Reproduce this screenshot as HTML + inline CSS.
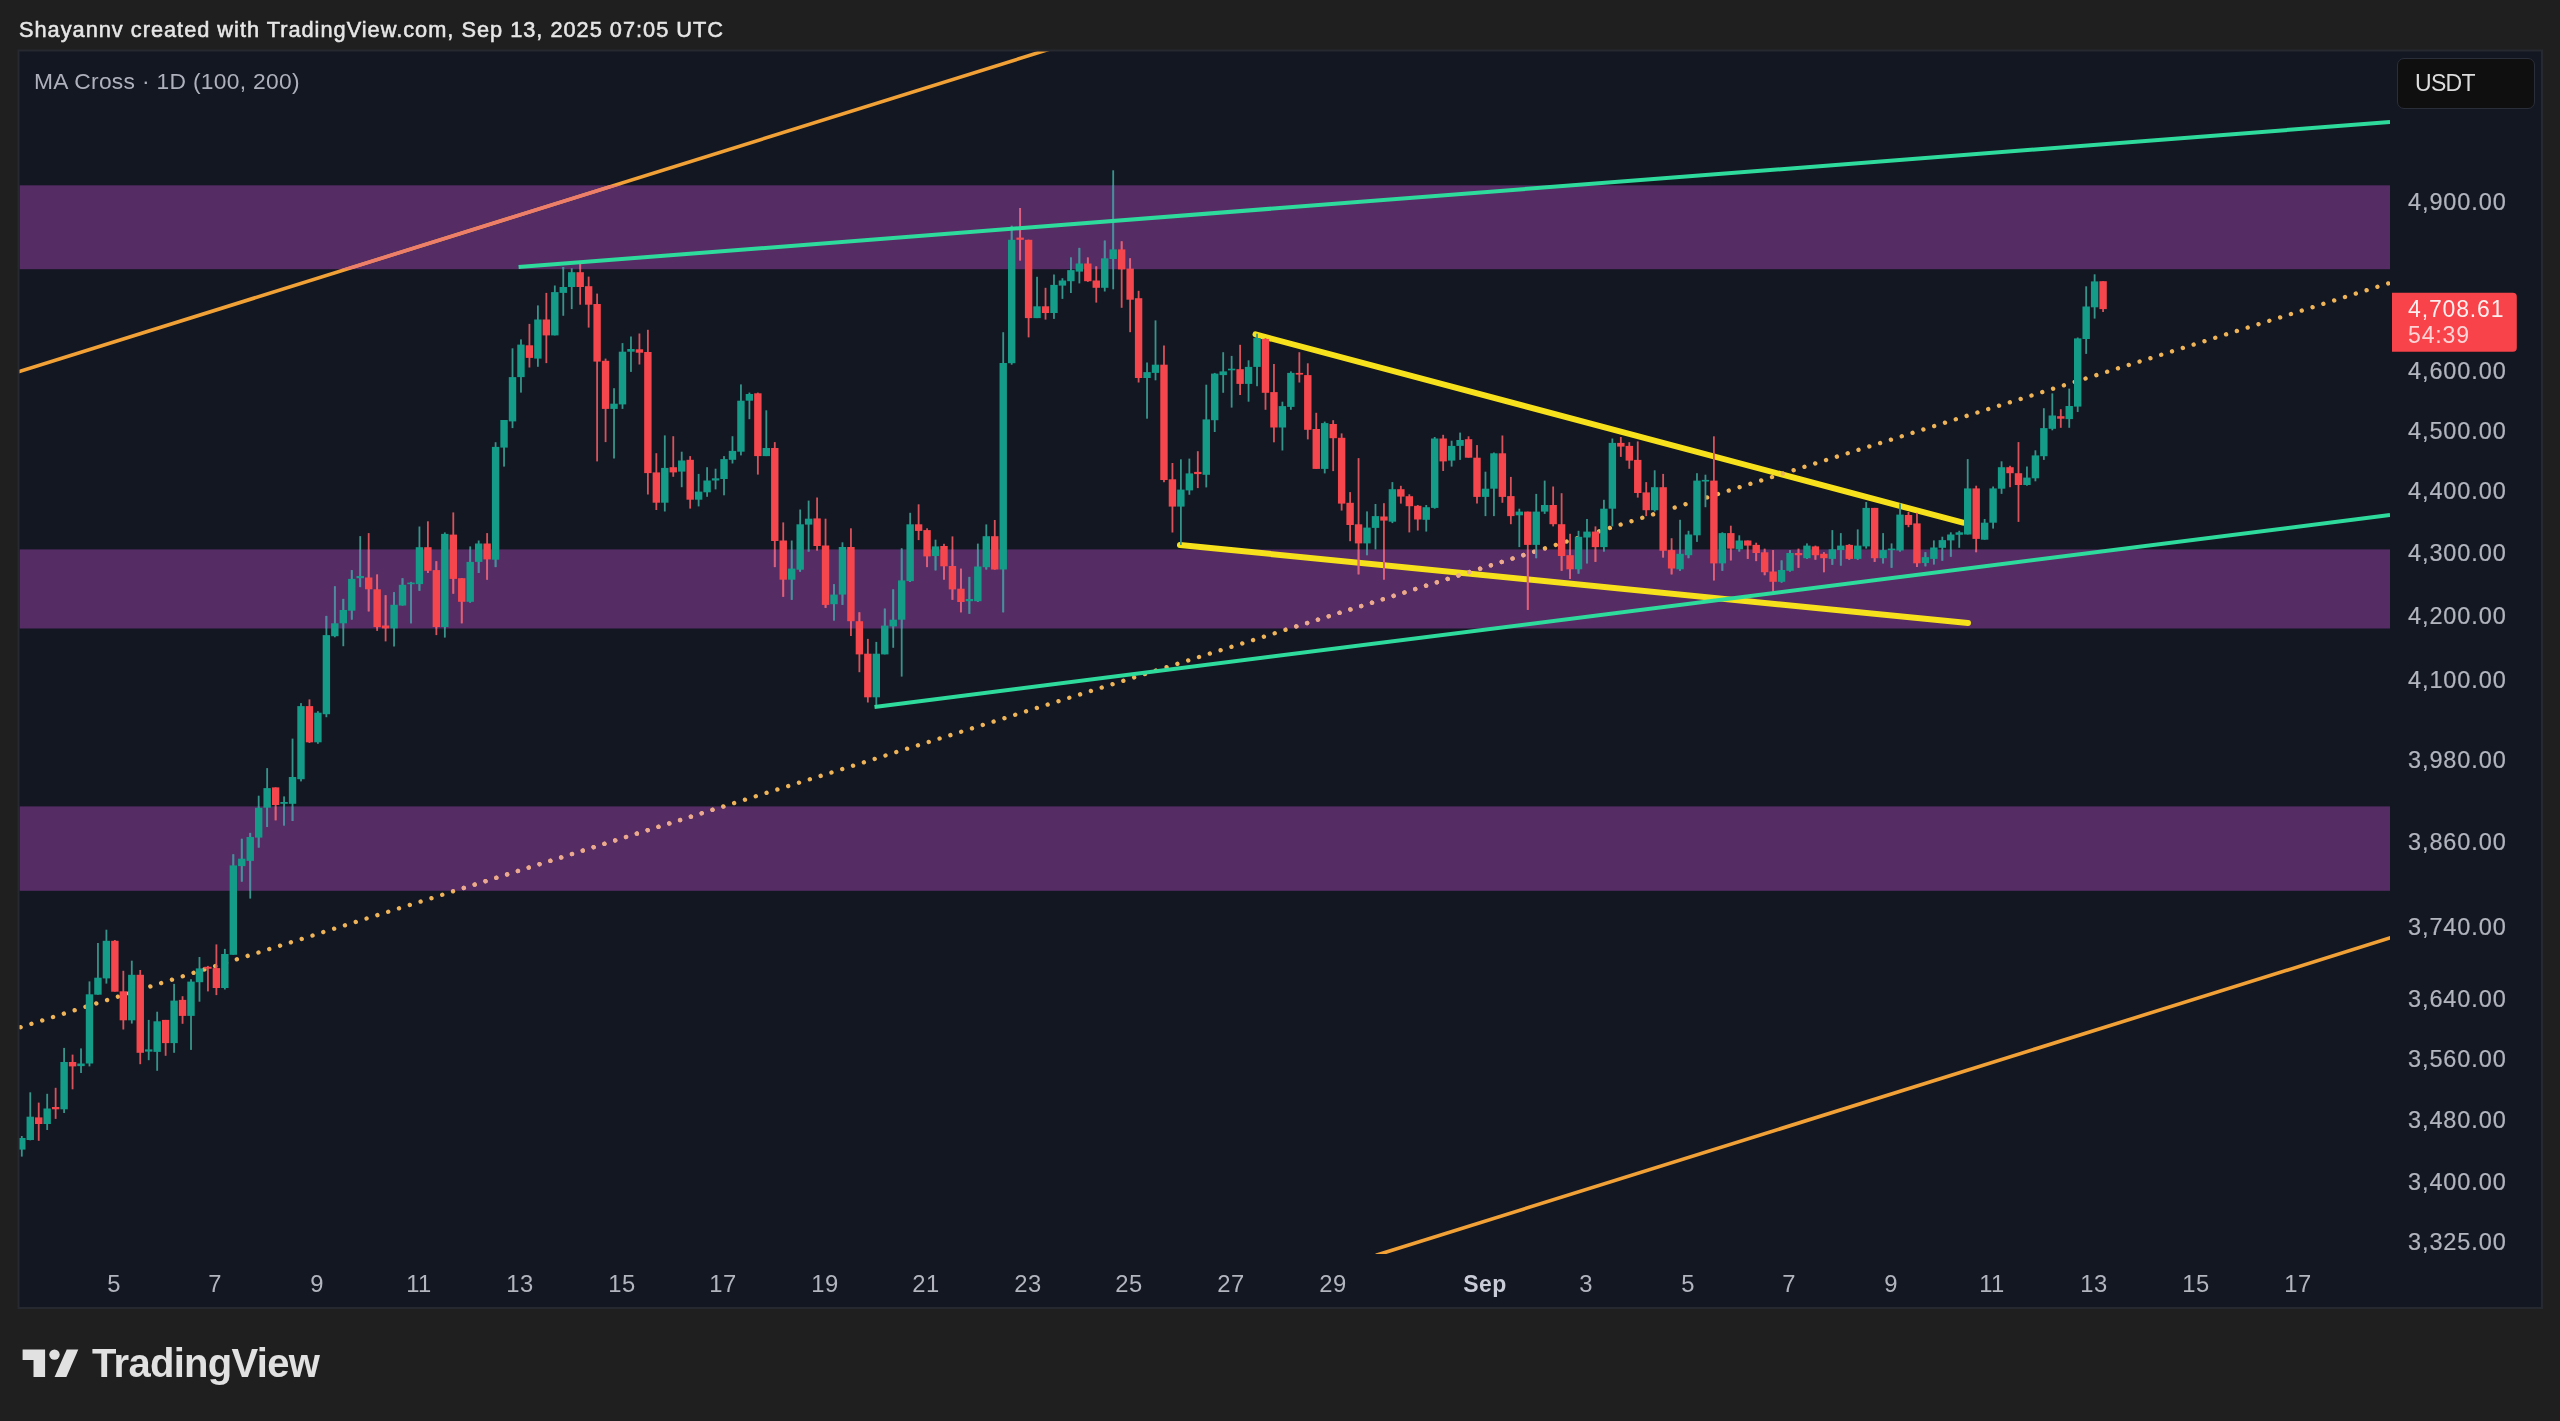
<!DOCTYPE html><html><head><meta charset="utf-8"><title>chart</title><style>
html,body{margin:0;padding:0;background:#1f1f1f;}
body{width:2560px;height:1421px;position:relative;overflow:hidden;font-family:"Liberation Sans",sans-serif;}
.t{position:absolute;white-space:nowrap;line-height:1;will-change:transform;}
.pl{position:absolute;left:2408px;font-size:23.5px;letter-spacing:0.89px;color:#b2b5be;-webkit-text-stroke:0.2px #b2b5be;white-space:nowrap;line-height:24px;height:24px;will-change:transform;}
.dl{position:absolute;font-size:23.8px;letter-spacing:0.5px;color:#b2b5be;white-space:nowrap;line-height:24px;height:24px;transform:translateX(-50%);top:1271.5px;will-change:transform;}
</style></head><body>
<svg width="2560" height="1421" viewBox="0 0 2560 1421" style="position:absolute;left:0;top:0">
<defs>
<clipPath id="plot"><rect x="19.5" y="51.5" width="2370.5" height="1202.5"/></clipPath>
<clipPath id="bands"><rect x="19.5" y="185.3" width="2370.5" height="83.9"/><rect x="19.5" y="549.4" width="2370.5" height="79.1"/><rect x="19.5" y="806.4" width="2370.5" height="84.4"/></clipPath>
</defs>
<rect x="18.5" y="50.5" width="2523.5" height="1257.5" fill="#131722" stroke="#26292f" stroke-width="2"/>
<g clip-path="url(#plot)"><g>
<rect x="19.5" y="185.3" width="2370.5" height="83.9" fill="#552c64"/>
<rect x="19.5" y="549.4" width="2370.5" height="79.1" fill="#552c64"/>
<rect x="19.5" y="806.4" width="2370.5" height="84.4" fill="#552c64"/>
<line x1="10.0" y1="374.5" x2="1050.0" y2="49.0" stroke="#f2a136" stroke-width="3.60" />
<g clip-path="url(#bands)">
<line x1="10.0" y1="374.5" x2="1050.0" y2="49.0" stroke="#ee7d6c" stroke-width="3.40" />
</g>
<line x1="1376.0" y1="1255.3" x2="2395.0" y2="936.4" stroke="#f2a136" stroke-width="3.60" />
<line x1="1255.5" y1="334.4" x2="1963.0" y2="522.7" stroke="#f7e11c" stroke-width="6.00" stroke-linecap="round"/>
<line x1="1180.0" y1="545.0" x2="1968.0" y2="623.0" stroke="#f7e11c" stroke-width="6.00" stroke-linecap="round"/>
<line x1="9.8" y1="1030.6" x2="2395.0" y2="281.3" stroke="#f0b458" stroke-width="4.4" stroke-linecap="round" stroke-dasharray="0.01 11.322"/>
<g clip-path="url(#bands)"><line x1="9.8" y1="1030.6" x2="2395.0" y2="281.3" stroke="#eba892" stroke-width="4.4" stroke-linecap="round" stroke-dasharray="0.01 11.322"/></g>
<rect x="20.90" y="1136.0" width="1.80" height="20.6" fill="#36948a"/>
<rect x="29.36" y="1092.3" width="1.80" height="48.0" fill="#36948a"/>
<rect x="37.82" y="1102.6" width="1.80" height="38.2" fill="#d8525b"/>
<rect x="46.28" y="1093.8" width="1.80" height="36.2" fill="#36948a"/>
<rect x="54.74" y="1087.8" width="1.80" height="31.1" fill="#d8525b"/>
<rect x="63.20" y="1047.9" width="1.80" height="65.1" fill="#36948a"/>
<rect x="71.66" y="1054.6" width="1.80" height="34.7" fill="#d8525b"/>
<rect x="80.12" y="1048.4" width="1.80" height="24.6" fill="#36948a"/>
<rect x="88.58" y="981.4" width="1.80" height="85.0" fill="#36948a"/>
<rect x="97.04" y="943.0" width="1.80" height="51.7" fill="#36948a"/>
<rect x="105.50" y="929.7" width="1.80" height="53.9" fill="#36948a"/>
<rect x="113.97" y="940.0" width="1.80" height="51.7" fill="#d8525b"/>
<rect x="122.43" y="970.8" width="1.80" height="58.7" fill="#d8525b"/>
<rect x="130.89" y="960.7" width="1.80" height="62.9" fill="#36948a"/>
<rect x="139.35" y="970.0" width="1.80" height="94.2" fill="#d8525b"/>
<rect x="147.81" y="1019.9" width="1.80" height="40.3" fill="#36948a"/>
<rect x="156.27" y="1011.7" width="1.80" height="59.1" fill="#36948a"/>
<rect x="164.73" y="1019.9" width="1.80" height="35.9" fill="#d8525b"/>
<rect x="173.19" y="983.9" width="1.80" height="68.9" fill="#36948a"/>
<rect x="181.65" y="996.2" width="1.80" height="27.6" fill="#d8525b"/>
<rect x="190.11" y="979.2" width="1.80" height="70.7" fill="#36948a"/>
<rect x="198.57" y="957.0" width="1.80" height="44.7" fill="#36948a"/>
<rect x="207.03" y="965.9" width="1.80" height="25.5" fill="#d8525b"/>
<rect x="215.49" y="944.4" width="1.80" height="50.7" fill="#d8525b"/>
<rect x="223.95" y="948.9" width="1.80" height="40.6" fill="#36948a"/>
<rect x="232.41" y="854.3" width="1.80" height="100.5" fill="#36948a"/>
<rect x="240.87" y="838.8" width="1.80" height="42.8" fill="#36948a"/>
<rect x="249.33" y="832.9" width="1.80" height="65.7" fill="#36948a"/>
<rect x="257.79" y="795.7" width="1.80" height="51.9" fill="#36948a"/>
<rect x="266.25" y="768.1" width="1.80" height="58.9" fill="#36948a"/>
<rect x="274.72" y="787.4" width="1.80" height="32.9" fill="#d8525b"/>
<rect x="283.18" y="796.4" width="1.80" height="29.1" fill="#36948a"/>
<rect x="291.64" y="738.6" width="1.80" height="82.4" fill="#36948a"/>
<rect x="300.10" y="703.1" width="1.80" height="78.3" fill="#36948a"/>
<rect x="308.56" y="699.4" width="1.80" height="43.6" fill="#d8525b"/>
<rect x="317.02" y="711.2" width="1.80" height="32.6" fill="#36948a"/>
<rect x="325.48" y="615.9" width="1.80" height="101.3" fill="#36948a"/>
<rect x="333.94" y="586.3" width="1.80" height="51.0" fill="#36948a"/>
<rect x="342.40" y="598.9" width="1.80" height="47.3" fill="#36948a"/>
<rect x="350.86" y="570.1" width="1.80" height="49.5" fill="#36948a"/>
<rect x="359.32" y="536.1" width="1.80" height="51.0" fill="#36948a"/>
<rect x="367.78" y="533.1" width="1.80" height="78.3" fill="#d8525b"/>
<rect x="376.24" y="574.5" width="1.80" height="56.4" fill="#d8525b"/>
<rect x="384.70" y="595.2" width="1.80" height="46.2" fill="#d8525b"/>
<rect x="393.16" y="592.2" width="1.80" height="54.3" fill="#36948a"/>
<rect x="401.62" y="578.2" width="1.80" height="27.3" fill="#36948a"/>
<rect x="410.08" y="581.9" width="1.80" height="41.4" fill="#36948a"/>
<rect x="418.54" y="526.5" width="1.80" height="64.3" fill="#36948a"/>
<rect x="427.00" y="521.3" width="1.80" height="51.7" fill="#d8525b"/>
<rect x="435.46" y="561.2" width="1.80" height="73.9" fill="#d8525b"/>
<rect x="443.93" y="532.4" width="1.80" height="105.2" fill="#36948a"/>
<rect x="452.39" y="512.4" width="1.80" height="81.3" fill="#d8525b"/>
<rect x="460.85" y="578.2" width="1.80" height="45.1" fill="#d8525b"/>
<rect x="469.31" y="546.4" width="1.80" height="56.2" fill="#36948a"/>
<rect x="477.77" y="540.5" width="1.80" height="32.5" fill="#36948a"/>
<rect x="486.23" y="533.1" width="1.80" height="46.6" fill="#d8525b"/>
<rect x="494.69" y="442.2" width="1.80" height="124.9" fill="#36948a"/>
<rect x="503.15" y="420.0" width="1.80" height="46.6" fill="#36948a"/>
<rect x="511.61" y="348.3" width="1.80" height="79.8" fill="#36948a"/>
<rect x="520.07" y="339.4" width="1.80" height="53.2" fill="#36948a"/>
<rect x="528.53" y="323.9" width="1.80" height="43.6" fill="#d8525b"/>
<rect x="536.99" y="305.4" width="1.80" height="61.4" fill="#36948a"/>
<rect x="545.45" y="292.9" width="1.80" height="70.2" fill="#d8525b"/>
<rect x="553.91" y="285.5" width="1.80" height="49.9" fill="#36948a"/>
<rect x="562.37" y="267.0" width="1.80" height="48.8" fill="#36948a"/>
<rect x="570.83" y="268.5" width="1.80" height="40.6" fill="#36948a"/>
<rect x="579.29" y="264.0" width="1.80" height="40.7" fill="#d8525b"/>
<rect x="587.75" y="276.6" width="1.80" height="51.0" fill="#d8525b"/>
<rect x="596.21" y="293.6" width="1.80" height="167.8" fill="#d8525b"/>
<rect x="604.67" y="358.6" width="1.80" height="83.5" fill="#d8525b"/>
<rect x="613.13" y="388.2" width="1.80" height="70.3" fill="#36948a"/>
<rect x="621.60" y="343.1" width="1.80" height="65.8" fill="#36948a"/>
<rect x="630.06" y="336.5" width="1.80" height="35.4" fill="#36948a"/>
<rect x="638.52" y="333.5" width="1.80" height="31.0" fill="#d8525b"/>
<rect x="646.98" y="329.8" width="1.80" height="164.7" fill="#d8525b"/>
<rect x="655.44" y="453.2" width="1.80" height="56.8" fill="#d8525b"/>
<rect x="663.90" y="435.4" width="1.80" height="76.1" fill="#36948a"/>
<rect x="672.36" y="436.2" width="1.80" height="40.6" fill="#d8525b"/>
<rect x="680.82" y="451.7" width="1.80" height="35.5" fill="#36948a"/>
<rect x="689.28" y="456.1" width="1.80" height="52.5" fill="#d8525b"/>
<rect x="697.74" y="473.9" width="1.80" height="32.5" fill="#36948a"/>
<rect x="706.20" y="467.2" width="1.80" height="29.6" fill="#36948a"/>
<rect x="714.66" y="468.7" width="1.80" height="20.7" fill="#36948a"/>
<rect x="723.12" y="456.1" width="1.80" height="39.2" fill="#36948a"/>
<rect x="731.58" y="436.2" width="1.80" height="27.3" fill="#36948a"/>
<rect x="740.04" y="384.4" width="1.80" height="71.0" fill="#36948a"/>
<rect x="748.50" y="392.6" width="1.80" height="26.6" fill="#36948a"/>
<rect x="756.96" y="392.6" width="1.80" height="82.0" fill="#d8525b"/>
<rect x="765.42" y="410.3" width="1.80" height="45.8" fill="#36948a"/>
<rect x="773.88" y="442.1" width="1.80" height="125.0" fill="#d8525b"/>
<rect x="782.34" y="522.4" width="1.80" height="74.4" fill="#d8525b"/>
<rect x="790.81" y="540.5" width="1.80" height="59.3" fill="#36948a"/>
<rect x="799.27" y="509.5" width="1.80" height="62.2" fill="#36948a"/>
<rect x="807.73" y="500.6" width="1.80" height="51.0" fill="#36948a"/>
<rect x="816.19" y="497.5" width="1.80" height="53.0" fill="#d8525b"/>
<rect x="824.65" y="518.7" width="1.80" height="89.2" fill="#d8525b"/>
<rect x="833.11" y="584.2" width="1.80" height="36.3" fill="#36948a"/>
<rect x="841.57" y="542.3" width="1.80" height="62.6" fill="#36948a"/>
<rect x="850.03" y="528.3" width="1.80" height="107.7" fill="#d8525b"/>
<rect x="858.49" y="612.3" width="1.80" height="59.9" fill="#d8525b"/>
<rect x="866.95" y="638.9" width="1.80" height="63.6" fill="#d8525b"/>
<rect x="875.41" y="641.9" width="1.80" height="65.0" fill="#36948a"/>
<rect x="883.87" y="608.6" width="1.80" height="45.8" fill="#36948a"/>
<rect x="892.33" y="589.4" width="1.80" height="58.4" fill="#36948a"/>
<rect x="900.79" y="548.2" width="1.80" height="128.4" fill="#36948a"/>
<rect x="909.25" y="512.8" width="1.80" height="69.2" fill="#36948a"/>
<rect x="917.71" y="504.3" width="1.80" height="35.8" fill="#d8525b"/>
<rect x="926.17" y="528.3" width="1.80" height="38.8" fill="#d8525b"/>
<rect x="934.63" y="539.7" width="1.80" height="30.7" fill="#36948a"/>
<rect x="943.09" y="543.8" width="1.80" height="35.8" fill="#d8525b"/>
<rect x="951.55" y="536.4" width="1.80" height="63.4" fill="#d8525b"/>
<rect x="960.02" y="568.7" width="1.80" height="43.6" fill="#d8525b"/>
<rect x="968.48" y="576.9" width="1.80" height="36.9" fill="#36948a"/>
<rect x="976.94" y="543.6" width="1.80" height="58.4" fill="#36948a"/>
<rect x="985.40" y="524.4" width="1.80" height="45.1" fill="#36948a"/>
<rect x="993.86" y="520.0" width="1.80" height="49.5" fill="#d8525b"/>
<rect x="1002.32" y="332.2" width="1.80" height="280.1" fill="#36948a"/>
<rect x="1010.78" y="225.8" width="1.80" height="138.9" fill="#36948a"/>
<rect x="1019.24" y="208.0" width="1.80" height="52.5" fill="#d8525b"/>
<rect x="1027.70" y="239.8" width="1.80" height="97.6" fill="#d8525b"/>
<rect x="1036.16" y="276.8" width="1.80" height="41.3" fill="#36948a"/>
<rect x="1044.62" y="287.8" width="1.80" height="31.8" fill="#d8525b"/>
<rect x="1053.08" y="274.5" width="1.80" height="44.4" fill="#36948a"/>
<rect x="1061.54" y="278.2" width="1.80" height="20.7" fill="#36948a"/>
<rect x="1070.00" y="257.5" width="1.80" height="35.5" fill="#36948a"/>
<rect x="1078.46" y="247.9" width="1.80" height="35.5" fill="#36948a"/>
<rect x="1086.92" y="257.5" width="1.80" height="24.4" fill="#d8525b"/>
<rect x="1095.38" y="266.4" width="1.80" height="36.2" fill="#d8525b"/>
<rect x="1103.84" y="240.6" width="1.80" height="50.9" fill="#36948a"/>
<rect x="1112.30" y="170.3" width="1.80" height="119.0" fill="#36948a"/>
<rect x="1120.76" y="241.3" width="1.80" height="66.5" fill="#d8525b"/>
<rect x="1129.23" y="258.3" width="1.80" height="73.9" fill="#d8525b"/>
<rect x="1137.69" y="290.8" width="1.80" height="91.7" fill="#d8525b"/>
<rect x="1146.15" y="362.5" width="1.80" height="56.2" fill="#36948a"/>
<rect x="1154.61" y="320.4" width="1.80" height="59.9" fill="#36948a"/>
<rect x="1163.07" y="345.5" width="1.80" height="136.7" fill="#d8525b"/>
<rect x="1171.53" y="463.0" width="1.80" height="69.5" fill="#d8525b"/>
<rect x="1179.99" y="459.3" width="1.80" height="85.7" fill="#36948a"/>
<rect x="1188.45" y="458.6" width="1.80" height="36.2" fill="#36948a"/>
<rect x="1196.91" y="451.2" width="1.80" height="36.9" fill="#d8525b"/>
<rect x="1205.37" y="384.7" width="1.80" height="102.7" fill="#36948a"/>
<rect x="1213.83" y="372.9" width="1.80" height="59.1" fill="#36948a"/>
<rect x="1222.29" y="352.2" width="1.80" height="40.6" fill="#36948a"/>
<rect x="1230.75" y="355.9" width="1.80" height="51.7" fill="#36948a"/>
<rect x="1239.21" y="344.8" width="1.80" height="50.2" fill="#d8525b"/>
<rect x="1247.67" y="360.3" width="1.80" height="41.4" fill="#36948a"/>
<rect x="1256.13" y="333.7" width="1.80" height="52.5" fill="#36948a"/>
<rect x="1264.59" y="338.1" width="1.80" height="71.7" fill="#d8525b"/>
<rect x="1273.05" y="364.0" width="1.80" height="78.3" fill="#d8525b"/>
<rect x="1281.51" y="401.7" width="1.80" height="48.8" fill="#36948a"/>
<rect x="1289.97" y="371.4" width="1.80" height="38.4" fill="#36948a"/>
<rect x="1298.44" y="352.2" width="1.80" height="30.3" fill="#d8525b"/>
<rect x="1306.90" y="363.3" width="1.80" height="76.1" fill="#d8525b"/>
<rect x="1315.36" y="412.8" width="1.80" height="56.1" fill="#d8525b"/>
<rect x="1323.82" y="421.6" width="1.80" height="51.8" fill="#36948a"/>
<rect x="1332.28" y="420.2" width="1.80" height="50.9" fill="#d8525b"/>
<rect x="1340.74" y="433.4" width="1.80" height="77.2" fill="#d8525b"/>
<rect x="1349.20" y="492.1" width="1.80" height="49.1" fill="#d8525b"/>
<rect x="1357.66" y="458.1" width="1.80" height="116.3" fill="#d8525b"/>
<rect x="1366.12" y="511.4" width="1.80" height="43.8" fill="#36948a"/>
<rect x="1374.58" y="504.0" width="1.80" height="45.3" fill="#36948a"/>
<rect x="1383.04" y="503.2" width="1.80" height="76.4" fill="#d8525b"/>
<rect x="1391.50" y="482.1" width="1.80" height="41.0" fill="#36948a"/>
<rect x="1399.96" y="485.8" width="1.80" height="17.8" fill="#d8525b"/>
<rect x="1408.42" y="494.3" width="1.80" height="38.1" fill="#d8525b"/>
<rect x="1416.88" y="505.0" width="1.80" height="25.5" fill="#d8525b"/>
<rect x="1425.34" y="505.0" width="1.80" height="26.6" fill="#36948a"/>
<rect x="1433.80" y="437.0" width="1.80" height="71.7" fill="#36948a"/>
<rect x="1442.26" y="434.8" width="1.80" height="36.2" fill="#d8525b"/>
<rect x="1450.72" y="440.7" width="1.80" height="25.9" fill="#36948a"/>
<rect x="1459.18" y="432.6" width="1.80" height="27.3" fill="#36948a"/>
<rect x="1467.65" y="436.3" width="1.80" height="21.4" fill="#d8525b"/>
<rect x="1476.11" y="445.1" width="1.80" height="58.4" fill="#d8525b"/>
<rect x="1484.57" y="471.7" width="1.80" height="44.4" fill="#36948a"/>
<rect x="1493.03" y="452.5" width="1.80" height="63.6" fill="#36948a"/>
<rect x="1501.49" y="435.5" width="1.80" height="67.3" fill="#d8525b"/>
<rect x="1509.95" y="476.9" width="1.80" height="47.3" fill="#d8525b"/>
<rect x="1518.41" y="508.7" width="1.80" height="38.4" fill="#36948a"/>
<rect x="1526.87" y="511.6" width="1.80" height="98.3" fill="#d8525b"/>
<rect x="1535.33" y="493.9" width="1.80" height="64.3" fill="#36948a"/>
<rect x="1543.79" y="480.6" width="1.80" height="33.3" fill="#36948a"/>
<rect x="1552.25" y="486.5" width="1.80" height="39.9" fill="#d8525b"/>
<rect x="1560.71" y="493.2" width="1.80" height="77.6" fill="#d8525b"/>
<rect x="1569.17" y="533.8" width="1.80" height="45.1" fill="#d8525b"/>
<rect x="1577.63" y="530.8" width="1.80" height="42.9" fill="#36948a"/>
<rect x="1586.09" y="519.0" width="1.80" height="44.4" fill="#36948a"/>
<rect x="1594.55" y="526.4" width="1.80" height="35.5" fill="#d8525b"/>
<rect x="1603.01" y="499.8" width="1.80" height="51.7" fill="#36948a"/>
<rect x="1611.47" y="438.5" width="1.80" height="87.9" fill="#36948a"/>
<rect x="1619.93" y="437.0" width="1.80" height="19.9" fill="#d8525b"/>
<rect x="1628.39" y="442.2" width="1.80" height="26.6" fill="#d8525b"/>
<rect x="1636.86" y="441.4" width="1.80" height="56.2" fill="#d8525b"/>
<rect x="1645.32" y="482.1" width="1.80" height="34.0" fill="#d8525b"/>
<rect x="1653.78" y="470.3" width="1.80" height="41.3" fill="#36948a"/>
<rect x="1662.24" y="473.9" width="1.80" height="83.6" fill="#d8525b"/>
<rect x="1670.70" y="538.2" width="1.80" height="36.2" fill="#d8525b"/>
<rect x="1679.16" y="519.8" width="1.80" height="51.0" fill="#36948a"/>
<rect x="1687.62" y="530.8" width="1.80" height="27.4" fill="#36948a"/>
<rect x="1696.08" y="473.2" width="1.80" height="68.7" fill="#36948a"/>
<rect x="1704.54" y="474.7" width="1.80" height="32.5" fill="#36948a"/>
<rect x="1713.00" y="436.3" width="1.80" height="144.1" fill="#d8525b"/>
<rect x="1721.46" y="532.3" width="1.80" height="38.5" fill="#36948a"/>
<rect x="1729.92" y="525.7" width="1.80" height="34.7" fill="#d8525b"/>
<rect x="1738.38" y="535.3" width="1.80" height="16.2" fill="#36948a"/>
<rect x="1746.84" y="540.5" width="1.80" height="18.4" fill="#d8525b"/>
<rect x="1755.30" y="542.7" width="1.80" height="18.4" fill="#d8525b"/>
<rect x="1763.76" y="548.6" width="1.80" height="26.6" fill="#d8525b"/>
<rect x="1772.22" y="550.1" width="1.80" height="41.3" fill="#d8525b"/>
<rect x="1780.68" y="560.4" width="1.80" height="22.2" fill="#36948a"/>
<rect x="1789.14" y="550.1" width="1.80" height="21.4" fill="#36948a"/>
<rect x="1797.60" y="548.6" width="1.80" height="19.2" fill="#d8525b"/>
<rect x="1806.07" y="543.4" width="1.80" height="15.5" fill="#36948a"/>
<rect x="1814.53" y="545.6" width="1.80" height="14.1" fill="#d8525b"/>
<rect x="1822.99" y="552.3" width="1.80" height="19.9" fill="#d8525b"/>
<rect x="1831.45" y="530.1" width="1.80" height="34.7" fill="#36948a"/>
<rect x="1839.91" y="533.1" width="1.80" height="32.5" fill="#36948a"/>
<rect x="1848.37" y="544.1" width="1.80" height="15.6" fill="#d8525b"/>
<rect x="1856.83" y="529.4" width="1.80" height="30.3" fill="#36948a"/>
<rect x="1865.29" y="502.0" width="1.80" height="46.6" fill="#36948a"/>
<rect x="1873.75" y="507.9" width="1.80" height="54.0" fill="#d8525b"/>
<rect x="1882.21" y="533.1" width="1.80" height="30.3" fill="#36948a"/>
<rect x="1890.67" y="543.4" width="1.80" height="24.4" fill="#36948a"/>
<rect x="1899.13" y="503.5" width="1.80" height="48.0" fill="#36948a"/>
<rect x="1907.59" y="512.0" width="1.80" height="15.2" fill="#d8525b"/>
<rect x="1916.05" y="512.8" width="1.80" height="54.2" fill="#d8525b"/>
<rect x="1924.51" y="552.2" width="1.80" height="14.1" fill="#36948a"/>
<rect x="1932.97" y="540.4" width="1.80" height="24.0" fill="#36948a"/>
<rect x="1941.43" y="536.7" width="1.80" height="24.0" fill="#36948a"/>
<rect x="1949.89" y="532.3" width="1.80" height="24.4" fill="#36948a"/>
<rect x="1958.35" y="530.8" width="1.80" height="17.0" fill="#36948a"/>
<rect x="1966.81" y="459.1" width="1.80" height="75.4" fill="#36948a"/>
<rect x="1975.28" y="485.7" width="1.80" height="66.5" fill="#d8525b"/>
<rect x="1983.74" y="519.0" width="1.80" height="20.7" fill="#36948a"/>
<rect x="1992.20" y="486.5" width="1.80" height="42.1" fill="#36948a"/>
<rect x="2000.66" y="461.3" width="1.80" height="32.6" fill="#36948a"/>
<rect x="2009.12" y="465.8" width="1.80" height="21.4" fill="#d8525b"/>
<rect x="2017.58" y="442.1" width="1.80" height="79.8" fill="#d8525b"/>
<rect x="2026.04" y="466.5" width="1.80" height="19.2" fill="#36948a"/>
<rect x="2034.50" y="450.3" width="1.80" height="31.0" fill="#36948a"/>
<rect x="2042.96" y="408.2" width="1.80" height="51.7" fill="#36948a"/>
<rect x="2051.42" y="393.4" width="1.80" height="36.9" fill="#36948a"/>
<rect x="2059.88" y="409.2" width="1.80" height="18.6" fill="#d8525b"/>
<rect x="2068.34" y="388.6" width="1.80" height="39.2" fill="#36948a"/>
<rect x="2076.80" y="337.5" width="1.80" height="74.5" fill="#36948a"/>
<rect x="2085.26" y="286.3" width="1.80" height="67.6" fill="#36948a"/>
<rect x="2093.72" y="274.3" width="1.80" height="44.3" fill="#36948a"/>
<rect x="2102.18" y="281.2" width="1.80" height="30.8" fill="#d8525b"/>
<g clip-path="url(#bands)">
<rect x="20.90" y="1136.0" width="1.80" height="20.6" fill="#4f8aa0"/>
<rect x="29.36" y="1092.3" width="1.80" height="48.0" fill="#4f8aa0"/>
<rect x="37.82" y="1102.6" width="1.80" height="38.2" fill="#d9607f"/>
<rect x="46.28" y="1093.8" width="1.80" height="36.2" fill="#4f8aa0"/>
<rect x="54.74" y="1087.8" width="1.80" height="31.1" fill="#d9607f"/>
<rect x="63.20" y="1047.9" width="1.80" height="65.1" fill="#4f8aa0"/>
<rect x="71.66" y="1054.6" width="1.80" height="34.7" fill="#d9607f"/>
<rect x="80.12" y="1048.4" width="1.80" height="24.6" fill="#4f8aa0"/>
<rect x="88.58" y="981.4" width="1.80" height="85.0" fill="#4f8aa0"/>
<rect x="97.04" y="943.0" width="1.80" height="51.7" fill="#4f8aa0"/>
<rect x="105.50" y="929.7" width="1.80" height="53.9" fill="#4f8aa0"/>
<rect x="113.97" y="940.0" width="1.80" height="51.7" fill="#d9607f"/>
<rect x="122.43" y="970.8" width="1.80" height="58.7" fill="#d9607f"/>
<rect x="130.89" y="960.7" width="1.80" height="62.9" fill="#4f8aa0"/>
<rect x="139.35" y="970.0" width="1.80" height="94.2" fill="#d9607f"/>
<rect x="147.81" y="1019.9" width="1.80" height="40.3" fill="#4f8aa0"/>
<rect x="156.27" y="1011.7" width="1.80" height="59.1" fill="#4f8aa0"/>
<rect x="164.73" y="1019.9" width="1.80" height="35.9" fill="#d9607f"/>
<rect x="173.19" y="983.9" width="1.80" height="68.9" fill="#4f8aa0"/>
<rect x="181.65" y="996.2" width="1.80" height="27.6" fill="#d9607f"/>
<rect x="190.11" y="979.2" width="1.80" height="70.7" fill="#4f8aa0"/>
<rect x="198.57" y="957.0" width="1.80" height="44.7" fill="#4f8aa0"/>
<rect x="207.03" y="965.9" width="1.80" height="25.5" fill="#d9607f"/>
<rect x="215.49" y="944.4" width="1.80" height="50.7" fill="#d9607f"/>
<rect x="223.95" y="948.9" width="1.80" height="40.6" fill="#4f8aa0"/>
<rect x="232.41" y="854.3" width="1.80" height="100.5" fill="#4f8aa0"/>
<rect x="240.87" y="838.8" width="1.80" height="42.8" fill="#4f8aa0"/>
<rect x="249.33" y="832.9" width="1.80" height="65.7" fill="#4f8aa0"/>
<rect x="257.79" y="795.7" width="1.80" height="51.9" fill="#4f8aa0"/>
<rect x="266.25" y="768.1" width="1.80" height="58.9" fill="#4f8aa0"/>
<rect x="274.72" y="787.4" width="1.80" height="32.9" fill="#d9607f"/>
<rect x="283.18" y="796.4" width="1.80" height="29.1" fill="#4f8aa0"/>
<rect x="291.64" y="738.6" width="1.80" height="82.4" fill="#4f8aa0"/>
<rect x="300.10" y="703.1" width="1.80" height="78.3" fill="#4f8aa0"/>
<rect x="308.56" y="699.4" width="1.80" height="43.6" fill="#d9607f"/>
<rect x="317.02" y="711.2" width="1.80" height="32.6" fill="#4f8aa0"/>
<rect x="325.48" y="615.9" width="1.80" height="101.3" fill="#4f8aa0"/>
<rect x="333.94" y="586.3" width="1.80" height="51.0" fill="#4f8aa0"/>
<rect x="342.40" y="598.9" width="1.80" height="47.3" fill="#4f8aa0"/>
<rect x="350.86" y="570.1" width="1.80" height="49.5" fill="#4f8aa0"/>
<rect x="359.32" y="536.1" width="1.80" height="51.0" fill="#4f8aa0"/>
<rect x="367.78" y="533.1" width="1.80" height="78.3" fill="#d9607f"/>
<rect x="376.24" y="574.5" width="1.80" height="56.4" fill="#d9607f"/>
<rect x="384.70" y="595.2" width="1.80" height="46.2" fill="#d9607f"/>
<rect x="393.16" y="592.2" width="1.80" height="54.3" fill="#4f8aa0"/>
<rect x="401.62" y="578.2" width="1.80" height="27.3" fill="#4f8aa0"/>
<rect x="410.08" y="581.9" width="1.80" height="41.4" fill="#4f8aa0"/>
<rect x="418.54" y="526.5" width="1.80" height="64.3" fill="#4f8aa0"/>
<rect x="427.00" y="521.3" width="1.80" height="51.7" fill="#d9607f"/>
<rect x="435.46" y="561.2" width="1.80" height="73.9" fill="#d9607f"/>
<rect x="443.93" y="532.4" width="1.80" height="105.2" fill="#4f8aa0"/>
<rect x="452.39" y="512.4" width="1.80" height="81.3" fill="#d9607f"/>
<rect x="460.85" y="578.2" width="1.80" height="45.1" fill="#d9607f"/>
<rect x="469.31" y="546.4" width="1.80" height="56.2" fill="#4f8aa0"/>
<rect x="477.77" y="540.5" width="1.80" height="32.5" fill="#4f8aa0"/>
<rect x="486.23" y="533.1" width="1.80" height="46.6" fill="#d9607f"/>
<rect x="494.69" y="442.2" width="1.80" height="124.9" fill="#4f8aa0"/>
<rect x="503.15" y="420.0" width="1.80" height="46.6" fill="#4f8aa0"/>
<rect x="511.61" y="348.3" width="1.80" height="79.8" fill="#4f8aa0"/>
<rect x="520.07" y="339.4" width="1.80" height="53.2" fill="#4f8aa0"/>
<rect x="528.53" y="323.9" width="1.80" height="43.6" fill="#d9607f"/>
<rect x="536.99" y="305.4" width="1.80" height="61.4" fill="#4f8aa0"/>
<rect x="545.45" y="292.9" width="1.80" height="70.2" fill="#d9607f"/>
<rect x="553.91" y="285.5" width="1.80" height="49.9" fill="#4f8aa0"/>
<rect x="562.37" y="267.0" width="1.80" height="48.8" fill="#4f8aa0"/>
<rect x="570.83" y="268.5" width="1.80" height="40.6" fill="#4f8aa0"/>
<rect x="579.29" y="264.0" width="1.80" height="40.7" fill="#d9607f"/>
<rect x="587.75" y="276.6" width="1.80" height="51.0" fill="#d9607f"/>
<rect x="596.21" y="293.6" width="1.80" height="167.8" fill="#d9607f"/>
<rect x="604.67" y="358.6" width="1.80" height="83.5" fill="#d9607f"/>
<rect x="613.13" y="388.2" width="1.80" height="70.3" fill="#4f8aa0"/>
<rect x="621.60" y="343.1" width="1.80" height="65.8" fill="#4f8aa0"/>
<rect x="630.06" y="336.5" width="1.80" height="35.4" fill="#4f8aa0"/>
<rect x="638.52" y="333.5" width="1.80" height="31.0" fill="#d9607f"/>
<rect x="646.98" y="329.8" width="1.80" height="164.7" fill="#d9607f"/>
<rect x="655.44" y="453.2" width="1.80" height="56.8" fill="#d9607f"/>
<rect x="663.90" y="435.4" width="1.80" height="76.1" fill="#4f8aa0"/>
<rect x="672.36" y="436.2" width="1.80" height="40.6" fill="#d9607f"/>
<rect x="680.82" y="451.7" width="1.80" height="35.5" fill="#4f8aa0"/>
<rect x="689.28" y="456.1" width="1.80" height="52.5" fill="#d9607f"/>
<rect x="697.74" y="473.9" width="1.80" height="32.5" fill="#4f8aa0"/>
<rect x="706.20" y="467.2" width="1.80" height="29.6" fill="#4f8aa0"/>
<rect x="714.66" y="468.7" width="1.80" height="20.7" fill="#4f8aa0"/>
<rect x="723.12" y="456.1" width="1.80" height="39.2" fill="#4f8aa0"/>
<rect x="731.58" y="436.2" width="1.80" height="27.3" fill="#4f8aa0"/>
<rect x="740.04" y="384.4" width="1.80" height="71.0" fill="#4f8aa0"/>
<rect x="748.50" y="392.6" width="1.80" height="26.6" fill="#4f8aa0"/>
<rect x="756.96" y="392.6" width="1.80" height="82.0" fill="#d9607f"/>
<rect x="765.42" y="410.3" width="1.80" height="45.8" fill="#4f8aa0"/>
<rect x="773.88" y="442.1" width="1.80" height="125.0" fill="#d9607f"/>
<rect x="782.34" y="522.4" width="1.80" height="74.4" fill="#d9607f"/>
<rect x="790.81" y="540.5" width="1.80" height="59.3" fill="#4f8aa0"/>
<rect x="799.27" y="509.5" width="1.80" height="62.2" fill="#4f8aa0"/>
<rect x="807.73" y="500.6" width="1.80" height="51.0" fill="#4f8aa0"/>
<rect x="816.19" y="497.5" width="1.80" height="53.0" fill="#d9607f"/>
<rect x="824.65" y="518.7" width="1.80" height="89.2" fill="#d9607f"/>
<rect x="833.11" y="584.2" width="1.80" height="36.3" fill="#4f8aa0"/>
<rect x="841.57" y="542.3" width="1.80" height="62.6" fill="#4f8aa0"/>
<rect x="850.03" y="528.3" width="1.80" height="107.7" fill="#d9607f"/>
<rect x="858.49" y="612.3" width="1.80" height="59.9" fill="#d9607f"/>
<rect x="866.95" y="638.9" width="1.80" height="63.6" fill="#d9607f"/>
<rect x="875.41" y="641.9" width="1.80" height="65.0" fill="#4f8aa0"/>
<rect x="883.87" y="608.6" width="1.80" height="45.8" fill="#4f8aa0"/>
<rect x="892.33" y="589.4" width="1.80" height="58.4" fill="#4f8aa0"/>
<rect x="900.79" y="548.2" width="1.80" height="128.4" fill="#4f8aa0"/>
<rect x="909.25" y="512.8" width="1.80" height="69.2" fill="#4f8aa0"/>
<rect x="917.71" y="504.3" width="1.80" height="35.8" fill="#d9607f"/>
<rect x="926.17" y="528.3" width="1.80" height="38.8" fill="#d9607f"/>
<rect x="934.63" y="539.7" width="1.80" height="30.7" fill="#4f8aa0"/>
<rect x="943.09" y="543.8" width="1.80" height="35.8" fill="#d9607f"/>
<rect x="951.55" y="536.4" width="1.80" height="63.4" fill="#d9607f"/>
<rect x="960.02" y="568.7" width="1.80" height="43.6" fill="#d9607f"/>
<rect x="968.48" y="576.9" width="1.80" height="36.9" fill="#4f8aa0"/>
<rect x="976.94" y="543.6" width="1.80" height="58.4" fill="#4f8aa0"/>
<rect x="985.40" y="524.4" width="1.80" height="45.1" fill="#4f8aa0"/>
<rect x="993.86" y="520.0" width="1.80" height="49.5" fill="#d9607f"/>
<rect x="1002.32" y="332.2" width="1.80" height="280.1" fill="#4f8aa0"/>
<rect x="1010.78" y="225.8" width="1.80" height="138.9" fill="#4f8aa0"/>
<rect x="1019.24" y="208.0" width="1.80" height="52.5" fill="#d9607f"/>
<rect x="1027.70" y="239.8" width="1.80" height="97.6" fill="#d9607f"/>
<rect x="1036.16" y="276.8" width="1.80" height="41.3" fill="#4f8aa0"/>
<rect x="1044.62" y="287.8" width="1.80" height="31.8" fill="#d9607f"/>
<rect x="1053.08" y="274.5" width="1.80" height="44.4" fill="#4f8aa0"/>
<rect x="1061.54" y="278.2" width="1.80" height="20.7" fill="#4f8aa0"/>
<rect x="1070.00" y="257.5" width="1.80" height="35.5" fill="#4f8aa0"/>
<rect x="1078.46" y="247.9" width="1.80" height="35.5" fill="#4f8aa0"/>
<rect x="1086.92" y="257.5" width="1.80" height="24.4" fill="#d9607f"/>
<rect x="1095.38" y="266.4" width="1.80" height="36.2" fill="#d9607f"/>
<rect x="1103.84" y="240.6" width="1.80" height="50.9" fill="#4f8aa0"/>
<rect x="1112.30" y="170.3" width="1.80" height="119.0" fill="#4f8aa0"/>
<rect x="1120.76" y="241.3" width="1.80" height="66.5" fill="#d9607f"/>
<rect x="1129.23" y="258.3" width="1.80" height="73.9" fill="#d9607f"/>
<rect x="1137.69" y="290.8" width="1.80" height="91.7" fill="#d9607f"/>
<rect x="1146.15" y="362.5" width="1.80" height="56.2" fill="#4f8aa0"/>
<rect x="1154.61" y="320.4" width="1.80" height="59.9" fill="#4f8aa0"/>
<rect x="1163.07" y="345.5" width="1.80" height="136.7" fill="#d9607f"/>
<rect x="1171.53" y="463.0" width="1.80" height="69.5" fill="#d9607f"/>
<rect x="1179.99" y="459.3" width="1.80" height="85.7" fill="#4f8aa0"/>
<rect x="1188.45" y="458.6" width="1.80" height="36.2" fill="#4f8aa0"/>
<rect x="1196.91" y="451.2" width="1.80" height="36.9" fill="#d9607f"/>
<rect x="1205.37" y="384.7" width="1.80" height="102.7" fill="#4f8aa0"/>
<rect x="1213.83" y="372.9" width="1.80" height="59.1" fill="#4f8aa0"/>
<rect x="1222.29" y="352.2" width="1.80" height="40.6" fill="#4f8aa0"/>
<rect x="1230.75" y="355.9" width="1.80" height="51.7" fill="#4f8aa0"/>
<rect x="1239.21" y="344.8" width="1.80" height="50.2" fill="#d9607f"/>
<rect x="1247.67" y="360.3" width="1.80" height="41.4" fill="#4f8aa0"/>
<rect x="1256.13" y="333.7" width="1.80" height="52.5" fill="#4f8aa0"/>
<rect x="1264.59" y="338.1" width="1.80" height="71.7" fill="#d9607f"/>
<rect x="1273.05" y="364.0" width="1.80" height="78.3" fill="#d9607f"/>
<rect x="1281.51" y="401.7" width="1.80" height="48.8" fill="#4f8aa0"/>
<rect x="1289.97" y="371.4" width="1.80" height="38.4" fill="#4f8aa0"/>
<rect x="1298.44" y="352.2" width="1.80" height="30.3" fill="#d9607f"/>
<rect x="1306.90" y="363.3" width="1.80" height="76.1" fill="#d9607f"/>
<rect x="1315.36" y="412.8" width="1.80" height="56.1" fill="#d9607f"/>
<rect x="1323.82" y="421.6" width="1.80" height="51.8" fill="#4f8aa0"/>
<rect x="1332.28" y="420.2" width="1.80" height="50.9" fill="#d9607f"/>
<rect x="1340.74" y="433.4" width="1.80" height="77.2" fill="#d9607f"/>
<rect x="1349.20" y="492.1" width="1.80" height="49.1" fill="#d9607f"/>
<rect x="1357.66" y="458.1" width="1.80" height="116.3" fill="#d9607f"/>
<rect x="1366.12" y="511.4" width="1.80" height="43.8" fill="#4f8aa0"/>
<rect x="1374.58" y="504.0" width="1.80" height="45.3" fill="#4f8aa0"/>
<rect x="1383.04" y="503.2" width="1.80" height="76.4" fill="#d9607f"/>
<rect x="1391.50" y="482.1" width="1.80" height="41.0" fill="#4f8aa0"/>
<rect x="1399.96" y="485.8" width="1.80" height="17.8" fill="#d9607f"/>
<rect x="1408.42" y="494.3" width="1.80" height="38.1" fill="#d9607f"/>
<rect x="1416.88" y="505.0" width="1.80" height="25.5" fill="#d9607f"/>
<rect x="1425.34" y="505.0" width="1.80" height="26.6" fill="#4f8aa0"/>
<rect x="1433.80" y="437.0" width="1.80" height="71.7" fill="#4f8aa0"/>
<rect x="1442.26" y="434.8" width="1.80" height="36.2" fill="#d9607f"/>
<rect x="1450.72" y="440.7" width="1.80" height="25.9" fill="#4f8aa0"/>
<rect x="1459.18" y="432.6" width="1.80" height="27.3" fill="#4f8aa0"/>
<rect x="1467.65" y="436.3" width="1.80" height="21.4" fill="#d9607f"/>
<rect x="1476.11" y="445.1" width="1.80" height="58.4" fill="#d9607f"/>
<rect x="1484.57" y="471.7" width="1.80" height="44.4" fill="#4f8aa0"/>
<rect x="1493.03" y="452.5" width="1.80" height="63.6" fill="#4f8aa0"/>
<rect x="1501.49" y="435.5" width="1.80" height="67.3" fill="#d9607f"/>
<rect x="1509.95" y="476.9" width="1.80" height="47.3" fill="#d9607f"/>
<rect x="1518.41" y="508.7" width="1.80" height="38.4" fill="#4f8aa0"/>
<rect x="1526.87" y="511.6" width="1.80" height="98.3" fill="#d9607f"/>
<rect x="1535.33" y="493.9" width="1.80" height="64.3" fill="#4f8aa0"/>
<rect x="1543.79" y="480.6" width="1.80" height="33.3" fill="#4f8aa0"/>
<rect x="1552.25" y="486.5" width="1.80" height="39.9" fill="#d9607f"/>
<rect x="1560.71" y="493.2" width="1.80" height="77.6" fill="#d9607f"/>
<rect x="1569.17" y="533.8" width="1.80" height="45.1" fill="#d9607f"/>
<rect x="1577.63" y="530.8" width="1.80" height="42.9" fill="#4f8aa0"/>
<rect x="1586.09" y="519.0" width="1.80" height="44.4" fill="#4f8aa0"/>
<rect x="1594.55" y="526.4" width="1.80" height="35.5" fill="#d9607f"/>
<rect x="1603.01" y="499.8" width="1.80" height="51.7" fill="#4f8aa0"/>
<rect x="1611.47" y="438.5" width="1.80" height="87.9" fill="#4f8aa0"/>
<rect x="1619.93" y="437.0" width="1.80" height="19.9" fill="#d9607f"/>
<rect x="1628.39" y="442.2" width="1.80" height="26.6" fill="#d9607f"/>
<rect x="1636.86" y="441.4" width="1.80" height="56.2" fill="#d9607f"/>
<rect x="1645.32" y="482.1" width="1.80" height="34.0" fill="#d9607f"/>
<rect x="1653.78" y="470.3" width="1.80" height="41.3" fill="#4f8aa0"/>
<rect x="1662.24" y="473.9" width="1.80" height="83.6" fill="#d9607f"/>
<rect x="1670.70" y="538.2" width="1.80" height="36.2" fill="#d9607f"/>
<rect x="1679.16" y="519.8" width="1.80" height="51.0" fill="#4f8aa0"/>
<rect x="1687.62" y="530.8" width="1.80" height="27.4" fill="#4f8aa0"/>
<rect x="1696.08" y="473.2" width="1.80" height="68.7" fill="#4f8aa0"/>
<rect x="1704.54" y="474.7" width="1.80" height="32.5" fill="#4f8aa0"/>
<rect x="1713.00" y="436.3" width="1.80" height="144.1" fill="#d9607f"/>
<rect x="1721.46" y="532.3" width="1.80" height="38.5" fill="#4f8aa0"/>
<rect x="1729.92" y="525.7" width="1.80" height="34.7" fill="#d9607f"/>
<rect x="1738.38" y="535.3" width="1.80" height="16.2" fill="#4f8aa0"/>
<rect x="1746.84" y="540.5" width="1.80" height="18.4" fill="#d9607f"/>
<rect x="1755.30" y="542.7" width="1.80" height="18.4" fill="#d9607f"/>
<rect x="1763.76" y="548.6" width="1.80" height="26.6" fill="#d9607f"/>
<rect x="1772.22" y="550.1" width="1.80" height="41.3" fill="#d9607f"/>
<rect x="1780.68" y="560.4" width="1.80" height="22.2" fill="#4f8aa0"/>
<rect x="1789.14" y="550.1" width="1.80" height="21.4" fill="#4f8aa0"/>
<rect x="1797.60" y="548.6" width="1.80" height="19.2" fill="#d9607f"/>
<rect x="1806.07" y="543.4" width="1.80" height="15.5" fill="#4f8aa0"/>
<rect x="1814.53" y="545.6" width="1.80" height="14.1" fill="#d9607f"/>
<rect x="1822.99" y="552.3" width="1.80" height="19.9" fill="#d9607f"/>
<rect x="1831.45" y="530.1" width="1.80" height="34.7" fill="#4f8aa0"/>
<rect x="1839.91" y="533.1" width="1.80" height="32.5" fill="#4f8aa0"/>
<rect x="1848.37" y="544.1" width="1.80" height="15.6" fill="#d9607f"/>
<rect x="1856.83" y="529.4" width="1.80" height="30.3" fill="#4f8aa0"/>
<rect x="1865.29" y="502.0" width="1.80" height="46.6" fill="#4f8aa0"/>
<rect x="1873.75" y="507.9" width="1.80" height="54.0" fill="#d9607f"/>
<rect x="1882.21" y="533.1" width="1.80" height="30.3" fill="#4f8aa0"/>
<rect x="1890.67" y="543.4" width="1.80" height="24.4" fill="#4f8aa0"/>
<rect x="1899.13" y="503.5" width="1.80" height="48.0" fill="#4f8aa0"/>
<rect x="1907.59" y="512.0" width="1.80" height="15.2" fill="#d9607f"/>
<rect x="1916.05" y="512.8" width="1.80" height="54.2" fill="#d9607f"/>
<rect x="1924.51" y="552.2" width="1.80" height="14.1" fill="#4f8aa0"/>
<rect x="1932.97" y="540.4" width="1.80" height="24.0" fill="#4f8aa0"/>
<rect x="1941.43" y="536.7" width="1.80" height="24.0" fill="#4f8aa0"/>
<rect x="1949.89" y="532.3" width="1.80" height="24.4" fill="#4f8aa0"/>
<rect x="1958.35" y="530.8" width="1.80" height="17.0" fill="#4f8aa0"/>
<rect x="1966.81" y="459.1" width="1.80" height="75.4" fill="#4f8aa0"/>
<rect x="1975.28" y="485.7" width="1.80" height="66.5" fill="#d9607f"/>
<rect x="1983.74" y="519.0" width="1.80" height="20.7" fill="#4f8aa0"/>
<rect x="1992.20" y="486.5" width="1.80" height="42.1" fill="#4f8aa0"/>
<rect x="2000.66" y="461.3" width="1.80" height="32.6" fill="#4f8aa0"/>
<rect x="2009.12" y="465.8" width="1.80" height="21.4" fill="#d9607f"/>
<rect x="2017.58" y="442.1" width="1.80" height="79.8" fill="#d9607f"/>
<rect x="2026.04" y="466.5" width="1.80" height="19.2" fill="#4f8aa0"/>
<rect x="2034.50" y="450.3" width="1.80" height="31.0" fill="#4f8aa0"/>
<rect x="2042.96" y="408.2" width="1.80" height="51.7" fill="#4f8aa0"/>
<rect x="2051.42" y="393.4" width="1.80" height="36.9" fill="#4f8aa0"/>
<rect x="2059.88" y="409.2" width="1.80" height="18.6" fill="#d9607f"/>
<rect x="2068.34" y="388.6" width="1.80" height="39.2" fill="#4f8aa0"/>
<rect x="2076.80" y="337.5" width="1.80" height="74.5" fill="#4f8aa0"/>
<rect x="2085.26" y="286.3" width="1.80" height="67.6" fill="#4f8aa0"/>
<rect x="2093.72" y="274.3" width="1.80" height="44.3" fill="#4f8aa0"/>
<rect x="2102.18" y="281.2" width="1.80" height="30.8" fill="#d9607f"/>
</g>
<rect x="18.10" y="1138.0" width="7.40" height="11.6" fill="#149c89"/>
<rect x="26.56" y="1116.7" width="7.40" height="23.3" fill="#149c89"/>
<rect x="35.02" y="1117.4" width="7.40" height="6.6" fill="#f6464d"/>
<rect x="43.48" y="1108.5" width="7.40" height="15.5" fill="#149c89"/>
<rect x="51.94" y="1107.0" width="7.40" height="2.3" fill="#f6464d"/>
<rect x="60.40" y="1062.0" width="7.40" height="47.3" fill="#149c89"/>
<rect x="68.86" y="1062.0" width="7.40" height="4.4" fill="#f6464d"/>
<rect x="77.32" y="1063.5" width="7.40" height="2.6" fill="#149c89"/>
<rect x="85.78" y="994.3" width="7.40" height="69.2" fill="#149c89"/>
<rect x="94.24" y="977.7" width="7.40" height="17.0" fill="#149c89"/>
<rect x="102.70" y="940.8" width="7.40" height="37.6" fill="#149c89"/>
<rect x="111.17" y="940.8" width="7.40" height="50.9" fill="#f6464d"/>
<rect x="119.63" y="991.3" width="7.40" height="29.0" fill="#f6464d"/>
<rect x="128.09" y="974.8" width="7.40" height="45.5" fill="#149c89"/>
<rect x="136.55" y="974.8" width="7.40" height="78.0" fill="#f6464d"/>
<rect x="145.01" y="1049.4" width="7.40" height="2.2" fill="#149c89"/>
<rect x="153.47" y="1021.3" width="7.40" height="30.6" fill="#149c89"/>
<rect x="161.93" y="1019.9" width="7.40" height="23.2" fill="#f6464d"/>
<rect x="170.39" y="1000.6" width="7.40" height="42.5" fill="#149c89"/>
<rect x="178.85" y="999.9" width="7.40" height="16.0" fill="#f6464d"/>
<rect x="187.31" y="981.6" width="7.40" height="34.3" fill="#149c89"/>
<rect x="195.77" y="968.4" width="7.40" height="13.8" fill="#149c89"/>
<rect x="204.23" y="966.8" width="7.40" height="1.9" fill="#f6464d"/>
<rect x="212.69" y="968.1" width="7.40" height="19.9" fill="#f6464d"/>
<rect x="221.15" y="954.0" width="7.40" height="34.0" fill="#149c89"/>
<rect x="229.61" y="865.4" width="7.40" height="89.4" fill="#149c89"/>
<rect x="238.07" y="858.7" width="7.40" height="7.4" fill="#149c89"/>
<rect x="246.53" y="837.0" width="7.40" height="23.9" fill="#149c89"/>
<rect x="254.99" y="807.8" width="7.40" height="29.8" fill="#149c89"/>
<rect x="263.45" y="788.1" width="7.40" height="19.6" fill="#149c89"/>
<rect x="271.92" y="787.4" width="7.40" height="17.6" fill="#f6464d"/>
<rect x="280.38" y="802.0" width="7.40" height="1.8" fill="#149c89"/>
<rect x="288.84" y="777.0" width="7.40" height="26.8" fill="#149c89"/>
<rect x="297.30" y="706.1" width="7.40" height="73.1" fill="#149c89"/>
<rect x="305.76" y="706.1" width="7.40" height="36.2" fill="#f6464d"/>
<rect x="314.22" y="712.7" width="7.40" height="29.6" fill="#149c89"/>
<rect x="322.68" y="635.1" width="7.40" height="79.1" fill="#149c89"/>
<rect x="331.14" y="623.3" width="7.40" height="12.9" fill="#149c89"/>
<rect x="339.60" y="610.0" width="7.40" height="13.3" fill="#149c89"/>
<rect x="348.06" y="578.9" width="7.40" height="31.8" fill="#149c89"/>
<rect x="356.52" y="576.0" width="7.40" height="2.2" fill="#149c89"/>
<rect x="364.98" y="577.5" width="7.40" height="11.8" fill="#f6464d"/>
<rect x="373.44" y="589.3" width="7.40" height="37.7" fill="#f6464d"/>
<rect x="381.90" y="625.5" width="7.40" height="2.9" fill="#f6464d"/>
<rect x="390.36" y="604.8" width="7.40" height="23.6" fill="#149c89"/>
<rect x="398.82" y="584.8" width="7.40" height="20.7" fill="#149c89"/>
<rect x="407.28" y="582.6" width="7.40" height="1.6" fill="#149c89"/>
<rect x="415.74" y="547.2" width="7.40" height="36.9" fill="#149c89"/>
<rect x="424.20" y="547.2" width="7.40" height="23.6" fill="#f6464d"/>
<rect x="432.66" y="570.1" width="7.40" height="56.9" fill="#f6464d"/>
<rect x="441.12" y="533.9" width="7.40" height="93.1" fill="#149c89"/>
<rect x="449.59" y="534.6" width="7.40" height="44.3" fill="#f6464d"/>
<rect x="458.05" y="578.2" width="7.40" height="23.6" fill="#f6464d"/>
<rect x="466.51" y="561.9" width="7.40" height="39.9" fill="#149c89"/>
<rect x="474.97" y="543.5" width="7.40" height="18.4" fill="#149c89"/>
<rect x="483.43" y="543.5" width="7.40" height="15.9" fill="#f6464d"/>
<rect x="491.89" y="446.9" width="7.40" height="112.8" fill="#149c89"/>
<rect x="500.35" y="420.0" width="7.40" height="27.6" fill="#149c89"/>
<rect x="508.81" y="377.1" width="7.40" height="44.3" fill="#149c89"/>
<rect x="517.27" y="344.6" width="7.40" height="32.5" fill="#149c89"/>
<rect x="525.73" y="345.3" width="7.40" height="12.6" fill="#f6464d"/>
<rect x="534.19" y="319.5" width="7.40" height="39.1" fill="#149c89"/>
<rect x="542.65" y="319.5" width="7.40" height="15.9" fill="#f6464d"/>
<rect x="551.11" y="292.1" width="7.40" height="43.3" fill="#149c89"/>
<rect x="559.57" y="287.0" width="7.40" height="5.9" fill="#149c89"/>
<rect x="568.03" y="272.2" width="7.40" height="14.8" fill="#149c89"/>
<rect x="576.49" y="272.2" width="7.40" height="14.8" fill="#f6464d"/>
<rect x="584.95" y="286.2" width="7.40" height="18.5" fill="#f6464d"/>
<rect x="593.41" y="304.0" width="7.40" height="57.6" fill="#f6464d"/>
<rect x="601.87" y="360.8" width="7.40" height="48.1" fill="#f6464d"/>
<rect x="610.33" y="403.7" width="7.40" height="5.2" fill="#149c89"/>
<rect x="618.80" y="351.7" width="7.40" height="52.7" fill="#149c89"/>
<rect x="627.26" y="349.0" width="7.40" height="2.7" fill="#149c89"/>
<rect x="635.72" y="349.3" width="7.40" height="3.4" fill="#f6464d"/>
<rect x="644.18" y="352.0" width="7.40" height="121.1" fill="#f6464d"/>
<rect x="652.64" y="472.4" width="7.40" height="30.3" fill="#f6464d"/>
<rect x="661.10" y="467.9" width="7.40" height="34.8" fill="#149c89"/>
<rect x="669.56" y="467.2" width="7.40" height="5.2" fill="#f6464d"/>
<rect x="678.02" y="460.5" width="7.40" height="11.1" fill="#149c89"/>
<rect x="686.48" y="459.8" width="7.40" height="39.9" fill="#f6464d"/>
<rect x="694.94" y="491.6" width="7.40" height="8.1" fill="#149c89"/>
<rect x="703.40" y="480.5" width="7.40" height="11.8" fill="#149c89"/>
<rect x="711.86" y="478.3" width="7.40" height="2.2" fill="#149c89"/>
<rect x="720.32" y="459.1" width="7.40" height="19.9" fill="#149c89"/>
<rect x="728.78" y="450.9" width="7.40" height="8.9" fill="#149c89"/>
<rect x="737.24" y="400.7" width="7.40" height="51.0" fill="#149c89"/>
<rect x="745.70" y="394.0" width="7.40" height="6.7" fill="#149c89"/>
<rect x="754.16" y="393.3" width="7.40" height="62.8" fill="#f6464d"/>
<rect x="762.62" y="448.0" width="7.40" height="8.1" fill="#149c89"/>
<rect x="771.08" y="448.0" width="7.40" height="93.0" fill="#f6464d"/>
<rect x="779.54" y="540.5" width="7.40" height="39.2" fill="#f6464d"/>
<rect x="788.01" y="568.6" width="7.40" height="11.1" fill="#149c89"/>
<rect x="796.47" y="524.3" width="7.40" height="45.4" fill="#149c89"/>
<rect x="804.93" y="518.7" width="7.40" height="5.9" fill="#149c89"/>
<rect x="813.39" y="518.4" width="7.40" height="27.6" fill="#f6464d"/>
<rect x="821.85" y="545.5" width="7.40" height="59.4" fill="#f6464d"/>
<rect x="830.31" y="594.6" width="7.40" height="9.6" fill="#149c89"/>
<rect x="838.77" y="547.0" width="7.40" height="47.6" fill="#149c89"/>
<rect x="847.23" y="547.0" width="7.40" height="74.2" fill="#f6464d"/>
<rect x="855.69" y="621.2" width="7.40" height="33.2" fill="#f6464d"/>
<rect x="864.15" y="653.7" width="7.40" height="43.6" fill="#f6464d"/>
<rect x="872.61" y="653.7" width="7.40" height="43.6" fill="#149c89"/>
<rect x="881.07" y="625.6" width="7.40" height="28.8" fill="#149c89"/>
<rect x="889.53" y="619.7" width="7.40" height="6.7" fill="#149c89"/>
<rect x="897.99" y="580.4" width="7.40" height="39.3" fill="#149c89"/>
<rect x="906.45" y="524.3" width="7.40" height="56.8" fill="#149c89"/>
<rect x="914.91" y="524.3" width="7.40" height="6.6" fill="#f6464d"/>
<rect x="923.37" y="530.1" width="7.40" height="26.3" fill="#f6464d"/>
<rect x="931.83" y="546.4" width="7.40" height="9.6" fill="#149c89"/>
<rect x="940.29" y="546.0" width="7.40" height="20.3" fill="#f6464d"/>
<rect x="948.75" y="566.0" width="7.40" height="23.4" fill="#f6464d"/>
<rect x="957.22" y="588.7" width="7.40" height="13.3" fill="#f6464d"/>
<rect x="965.68" y="599.0" width="7.40" height="2.2" fill="#149c89"/>
<rect x="974.14" y="566.5" width="7.40" height="34.7" fill="#149c89"/>
<rect x="982.60" y="536.2" width="7.40" height="31.0" fill="#149c89"/>
<rect x="991.06" y="536.2" width="7.40" height="33.3" fill="#f6464d"/>
<rect x="999.52" y="363.0" width="7.40" height="206.5" fill="#149c89"/>
<rect x="1007.98" y="239.8" width="7.40" height="123.4" fill="#149c89"/>
<rect x="1016.44" y="237.6" width="7.40" height="2.2" fill="#f6464d"/>
<rect x="1024.90" y="239.8" width="7.40" height="78.3" fill="#f6464d"/>
<rect x="1033.36" y="306.3" width="7.40" height="11.8" fill="#149c89"/>
<rect x="1041.82" y="306.3" width="7.40" height="6.7" fill="#f6464d"/>
<rect x="1050.28" y="284.9" width="7.40" height="28.1" fill="#149c89"/>
<rect x="1058.74" y="280.5" width="7.40" height="5.1" fill="#149c89"/>
<rect x="1067.20" y="270.1" width="7.40" height="11.1" fill="#149c89"/>
<rect x="1075.66" y="263.5" width="7.40" height="8.1" fill="#149c89"/>
<rect x="1084.12" y="263.5" width="7.40" height="17.7" fill="#f6464d"/>
<rect x="1092.58" y="280.5" width="7.40" height="7.3" fill="#f6464d"/>
<rect x="1101.04" y="258.3" width="7.40" height="29.5" fill="#149c89"/>
<rect x="1109.50" y="249.4" width="7.40" height="9.6" fill="#149c89"/>
<rect x="1117.96" y="249.4" width="7.40" height="20.0" fill="#f6464d"/>
<rect x="1126.43" y="268.6" width="7.40" height="31.1" fill="#f6464d"/>
<rect x="1134.89" y="298.2" width="7.40" height="79.8" fill="#f6464d"/>
<rect x="1143.35" y="372.1" width="7.40" height="5.9" fill="#149c89"/>
<rect x="1151.81" y="364.7" width="7.40" height="8.2" fill="#149c89"/>
<rect x="1160.27" y="364.7" width="7.40" height="115.3" fill="#f6464d"/>
<rect x="1168.73" y="479.3" width="7.40" height="27.3" fill="#f6464d"/>
<rect x="1177.19" y="489.6" width="7.40" height="17.0" fill="#149c89"/>
<rect x="1185.65" y="473.4" width="7.40" height="17.0" fill="#149c89"/>
<rect x="1194.11" y="471.9" width="7.40" height="2.2" fill="#f6464d"/>
<rect x="1202.57" y="419.4" width="7.40" height="55.4" fill="#149c89"/>
<rect x="1211.03" y="373.6" width="7.40" height="46.6" fill="#149c89"/>
<rect x="1219.49" y="371.4" width="7.40" height="3.7" fill="#149c89"/>
<rect x="1227.95" y="368.7" width="7.40" height="1.6" fill="#149c89"/>
<rect x="1236.41" y="369.2" width="7.40" height="14.7" fill="#f6464d"/>
<rect x="1244.87" y="366.9" width="7.40" height="17.0" fill="#149c89"/>
<rect x="1253.33" y="338.1" width="7.40" height="28.8" fill="#149c89"/>
<rect x="1261.79" y="338.9" width="7.40" height="53.9" fill="#f6464d"/>
<rect x="1270.25" y="392.1" width="7.40" height="35.4" fill="#f6464d"/>
<rect x="1278.71" y="406.1" width="7.40" height="21.4" fill="#149c89"/>
<rect x="1287.17" y="372.9" width="7.40" height="34.0" fill="#149c89"/>
<rect x="1295.64" y="372.9" width="7.40" height="1.7" fill="#f6464d"/>
<rect x="1304.10" y="375.1" width="7.40" height="54.7" fill="#f6464d"/>
<rect x="1312.56" y="429.0" width="7.40" height="39.9" fill="#f6464d"/>
<rect x="1321.02" y="423.1" width="7.40" height="45.8" fill="#149c89"/>
<rect x="1329.48" y="424.0" width="7.40" height="14.2" fill="#f6464d"/>
<rect x="1337.94" y="437.8" width="7.40" height="65.8" fill="#f6464d"/>
<rect x="1346.40" y="502.8" width="7.40" height="22.2" fill="#f6464d"/>
<rect x="1354.86" y="524.3" width="7.40" height="19.1" fill="#f6464d"/>
<rect x="1363.32" y="527.6" width="7.40" height="15.8" fill="#149c89"/>
<rect x="1371.78" y="516.1" width="7.40" height="11.8" fill="#149c89"/>
<rect x="1380.24" y="516.5" width="7.40" height="4.1" fill="#f6464d"/>
<rect x="1388.70" y="489.2" width="7.40" height="32.5" fill="#149c89"/>
<rect x="1397.16" y="489.2" width="7.40" height="7.4" fill="#f6464d"/>
<rect x="1405.62" y="496.2" width="7.40" height="10.0" fill="#f6464d"/>
<rect x="1414.08" y="505.8" width="7.40" height="13.7" fill="#f6464d"/>
<rect x="1422.54" y="507.2" width="7.40" height="12.6" fill="#149c89"/>
<rect x="1431.00" y="438.5" width="7.40" height="69.4" fill="#149c89"/>
<rect x="1439.46" y="438.5" width="7.40" height="22.9" fill="#f6464d"/>
<rect x="1447.92" y="445.9" width="7.40" height="14.7" fill="#149c89"/>
<rect x="1456.38" y="440.0" width="7.40" height="5.9" fill="#149c89"/>
<rect x="1464.85" y="439.2" width="7.40" height="18.5" fill="#f6464d"/>
<rect x="1473.31" y="457.7" width="7.40" height="39.2" fill="#f6464d"/>
<rect x="1481.77" y="488.7" width="7.40" height="8.2" fill="#149c89"/>
<rect x="1490.23" y="453.3" width="7.40" height="35.4" fill="#149c89"/>
<rect x="1498.69" y="453.3" width="7.40" height="43.6" fill="#f6464d"/>
<rect x="1507.15" y="496.1" width="7.40" height="20.0" fill="#f6464d"/>
<rect x="1515.61" y="511.6" width="7.40" height="3.7" fill="#149c89"/>
<rect x="1524.07" y="511.6" width="7.40" height="33.3" fill="#f6464d"/>
<rect x="1532.53" y="511.6" width="7.40" height="33.3" fill="#149c89"/>
<rect x="1540.99" y="505.0" width="7.40" height="6.6" fill="#149c89"/>
<rect x="1549.45" y="505.0" width="7.40" height="19.2" fill="#f6464d"/>
<rect x="1557.91" y="524.2" width="7.40" height="31.8" fill="#f6464d"/>
<rect x="1566.37" y="555.2" width="7.40" height="14.1" fill="#f6464d"/>
<rect x="1574.83" y="536.8" width="7.40" height="32.5" fill="#149c89"/>
<rect x="1583.29" y="531.6" width="7.40" height="5.9" fill="#149c89"/>
<rect x="1591.75" y="531.6" width="7.40" height="15.5" fill="#f6464d"/>
<rect x="1600.21" y="508.7" width="7.40" height="38.4" fill="#149c89"/>
<rect x="1608.67" y="442.9" width="7.40" height="65.8" fill="#149c89"/>
<rect x="1617.13" y="442.9" width="7.40" height="3.7" fill="#f6464d"/>
<rect x="1625.59" y="445.9" width="7.40" height="14.7" fill="#f6464d"/>
<rect x="1634.06" y="459.9" width="7.40" height="33.1" fill="#f6464d"/>
<rect x="1642.52" y="492.4" width="7.40" height="17.8" fill="#f6464d"/>
<rect x="1650.98" y="487.2" width="7.40" height="23.0" fill="#149c89"/>
<rect x="1659.44" y="487.2" width="7.40" height="63.6" fill="#f6464d"/>
<rect x="1667.90" y="550.1" width="7.40" height="18.4" fill="#f6464d"/>
<rect x="1676.36" y="553.8" width="7.40" height="15.5" fill="#149c89"/>
<rect x="1684.82" y="534.5" width="7.40" height="20.7" fill="#149c89"/>
<rect x="1693.28" y="480.6" width="7.40" height="54.7" fill="#149c89"/>
<rect x="1701.74" y="479.9" width="7.40" height="1.6" fill="#149c89"/>
<rect x="1710.20" y="480.6" width="7.40" height="82.8" fill="#f6464d"/>
<rect x="1718.66" y="533.1" width="7.40" height="30.3" fill="#149c89"/>
<rect x="1727.12" y="533.1" width="7.40" height="15.5" fill="#f6464d"/>
<rect x="1735.58" y="540.5" width="7.40" height="8.8" fill="#149c89"/>
<rect x="1744.04" y="540.5" width="7.40" height="5.1" fill="#f6464d"/>
<rect x="1752.50" y="544.9" width="7.40" height="8.1" fill="#f6464d"/>
<rect x="1760.96" y="552.3" width="7.40" height="19.9" fill="#f6464d"/>
<rect x="1769.42" y="571.5" width="7.40" height="10.3" fill="#f6464d"/>
<rect x="1777.88" y="570.0" width="7.40" height="11.8" fill="#149c89"/>
<rect x="1786.34" y="553.0" width="7.40" height="17.8" fill="#149c89"/>
<rect x="1794.80" y="553.0" width="7.40" height="2.2" fill="#f6464d"/>
<rect x="1803.27" y="545.6" width="7.40" height="12.6" fill="#149c89"/>
<rect x="1811.73" y="546.4" width="7.40" height="8.8" fill="#f6464d"/>
<rect x="1820.19" y="553.8" width="7.40" height="4.4" fill="#f6464d"/>
<rect x="1828.65" y="549.3" width="7.40" height="9.6" fill="#149c89"/>
<rect x="1837.11" y="545.6" width="7.40" height="4.5" fill="#149c89"/>
<rect x="1845.57" y="544.9" width="7.40" height="14.0" fill="#f6464d"/>
<rect x="1854.03" y="545.6" width="7.40" height="13.3" fill="#149c89"/>
<rect x="1862.49" y="507.9" width="7.40" height="38.5" fill="#149c89"/>
<rect x="1870.95" y="507.9" width="7.40" height="50.3" fill="#f6464d"/>
<rect x="1879.41" y="550.1" width="7.40" height="8.1" fill="#149c89"/>
<rect x="1887.87" y="548.6" width="7.40" height="1.6" fill="#149c89"/>
<rect x="1896.33" y="514.6" width="7.40" height="35.9" fill="#149c89"/>
<rect x="1904.79" y="515.0" width="7.40" height="9.9" fill="#f6464d"/>
<rect x="1913.25" y="523.4" width="7.40" height="39.9" fill="#f6464d"/>
<rect x="1921.71" y="557.1" width="7.40" height="5.9" fill="#149c89"/>
<rect x="1930.17" y="547.5" width="7.40" height="11.4" fill="#149c89"/>
<rect x="1938.63" y="540.1" width="7.40" height="7.7" fill="#149c89"/>
<rect x="1947.09" y="534.5" width="7.40" height="5.9" fill="#149c89"/>
<rect x="1955.55" y="532.3" width="7.40" height="2.5" fill="#149c89"/>
<rect x="1964.01" y="488.4" width="7.40" height="46.1" fill="#149c89"/>
<rect x="1972.48" y="488.4" width="7.40" height="50.5" fill="#f6464d"/>
<rect x="1980.94" y="522.7" width="7.40" height="17.0" fill="#149c89"/>
<rect x="1989.40" y="488.4" width="7.40" height="34.3" fill="#149c89"/>
<rect x="1997.86" y="467.2" width="7.40" height="21.5" fill="#149c89"/>
<rect x="2006.32" y="467.2" width="7.40" height="6.0" fill="#f6464d"/>
<rect x="2014.78" y="473.2" width="7.40" height="11.8" fill="#f6464d"/>
<rect x="2023.24" y="477.6" width="7.40" height="7.4" fill="#149c89"/>
<rect x="2031.70" y="455.4" width="7.40" height="22.9" fill="#149c89"/>
<rect x="2040.16" y="428.1" width="7.40" height="28.1" fill="#149c89"/>
<rect x="2048.62" y="415.5" width="7.40" height="13.3" fill="#149c89"/>
<rect x="2057.08" y="416.2" width="7.40" height="2.5" fill="#f6464d"/>
<rect x="2065.54" y="406.0" width="7.40" height="13.1" fill="#149c89"/>
<rect x="2074.00" y="338.4" width="7.40" height="68.2" fill="#149c89"/>
<rect x="2082.46" y="306.5" width="7.40" height="32.5" fill="#149c89"/>
<rect x="2090.92" y="281.4" width="7.40" height="25.9" fill="#149c89"/>
<rect x="2099.38" y="281.2" width="7.40" height="27.9" fill="#f6464d"/>
<line x1="518.6" y1="267.0" x2="2390.0" y2="122.0" stroke="#2edb9c" stroke-width="4.00" stroke-linecap="butt"/>
<line x1="874.5" y1="706.9" x2="2390.0" y2="515.0" stroke="#2edb9c" stroke-width="4.00" stroke-linecap="butt"/>
</g></g>
<path d="M2392 292.7 H2512.8 a4 4 0 0 1 4 4 V347.7 a4 4 0 0 1 -4 4 H2392 Z" fill="#f8434a"/>
</svg>
<div class="t" style="left:19px;top:19.2px;font-size:21.75px;color:#e6e6e6;letter-spacing:1.0px;-webkit-text-stroke:0.55px #e6e6e6;" id="title">Shayannv created with TradingView.com, Sep 13, 2025 07:05 UTC</div>
<div class="t" style="left:34px;top:70.3px;font-size:22.8px;letter-spacing:0.31px;color:#aeb1bc;" id="ma">MA Cross · 1D (100, 200)</div>
<div style="position:absolute;left:2397px;top:57.5px;width:138px;height:51px;border:1px solid #2a2e39;border-radius:7px;background:#0f0f0f;box-sizing:border-box;"></div>
<div class="t" style="left:2415px;top:71.5px;font-size:23px;color:#dcdcdc;letter-spacing:-0.7px;" id="usdt">USDT</div>
<div class="pl" style="top:190.0px">4,900.00</div>
<div class="pl" style="top:359.0px">4,600.00</div>
<div class="pl" style="top:419.0px">4,500.00</div>
<div class="pl" style="top:478.5px">4,400.00</div>
<div class="pl" style="top:541.2px">4,300.00</div>
<div class="pl" style="top:604.2px">4,200.00</div>
<div class="pl" style="top:668.3px">4,100.00</div>
<div class="pl" style="top:747.6px">3,980.00</div>
<div class="pl" style="top:829.7px">3,860.00</div>
<div class="pl" style="top:914.8px">3,740.00</div>
<div class="pl" style="top:987.0px">3,640.00</div>
<div class="pl" style="top:1047.0px">3,560.00</div>
<div class="pl" style="top:1108.0px">3,480.00</div>
<div class="pl" style="top:1170.0px">3,400.00</div>
<div class="pl" style="top:1230.0px">3,325.00</div>
<div class="dl" style="left:114.0px;">5</div>
<div class="dl" style="left:215.0px;">7</div>
<div class="dl" style="left:317.0px;">9</div>
<div class="dl" style="left:419.0px;">11</div>
<div class="dl" style="left:520.0px;">13</div>
<div class="dl" style="left:622.0px;">15</div>
<div class="dl" style="left:723.0px;">17</div>
<div class="dl" style="left:825.0px;">19</div>
<div class="dl" style="left:926.0px;">21</div>
<div class="dl" style="left:1028.0px;">23</div>
<div class="dl" style="left:1129.0px;">25</div>
<div class="dl" style="left:1231.0px;">27</div>
<div class="dl" style="left:1332.5px;">29</div>
<div class="dl" style="left:1485.0px;font-weight:bold;font-size:23px;color:#c9ccd6;">Sep</div>
<div class="dl" style="left:1586.0px;">3</div>
<div class="dl" style="left:1687.5px;">5</div>
<div class="dl" style="left:1789.0px;">7</div>
<div class="dl" style="left:1890.5px;">9</div>
<div class="dl" style="left:1992.0px;">11</div>
<div class="dl" style="left:2094.0px;">13</div>
<div class="dl" style="left:2196.0px;">15</div>
<div class="dl" style="left:2297.5px;">17</div>
<div class="t" style="left:2408px;top:297.5px;font-size:23px;letter-spacing:0.85px;color:#ffeeee;" id="lp">4,708.61</div>
<div class="t" style="left:2408px;top:323.5px;font-size:23px;letter-spacing:0.85px;color:#ffd4d6;" id="lt">54:39</div>
<svg width="80" height="40" viewBox="0 0 80 40" style="position:absolute;left:0;top:1340px"><g fill="#e1e1e1"><path d="M22.6 9.4 H45.1 V36.9 H33.5 V20.1 H22.6 Z"/><circle cx="54.5" cy="14.6" r="5.2"/><path d="M66.7 9.4 H78.3 L66.4 36.9 H54.6 Z"/></g></svg>
<div class="t" style="left:91.5px;top:1343px;font-size:40px;font-weight:bold;color:#e1e1e1;letter-spacing:-0.7px;" id="tv">TradingView</div>
</body></html>
